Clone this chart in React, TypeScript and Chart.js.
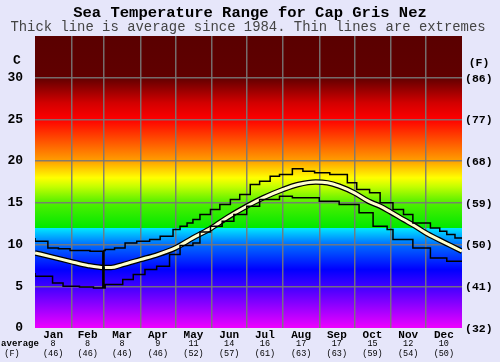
import React, { useEffect, useRef } from "react";
import { Chart, registerables } from "chart.js";

Chart.register(...registerables);

const TITLE = "Sea Temperature Range for Cap Gris Nez";
const SUBTITLE = "Thick line is average since 1984. Thin lines are extremes";

const MONTHS = ["Jan", "Feb", "Mar", "Apr", "May", "Jun", "Jul", "Aug", "Sep", "Oct", "Nov", "Dec"];
const MONTH_STARTS = [0, 31, 59, 90, 120, 151, 181, 212, 243, 273, 304, 334, 365];
const MONTH_AVG_C = [8, 8, 8, 9, 11, 14, 16, 17, 17, 15, 12, 10];
const MONTH_AVG_F = [46, 46, 46, 46, 52, 57, 61, 63, 63, 59, 54, 50];

const Y_TICKS_C = [0, 5, 10, 15, 20, 25, 30];
const Y_TICKS_F = ["(32)", "(41)", "(50)", "(59)", "(68)", "(77)", "(86)"];

// average (day of year, °C)
const AVG_DAYS = [0, 15, 31, 45, 59, 65, 75, 90, 105, 120, 135, 151, 165, 181, 195, 212, 225, 240, 250, 260, 273, 285, 295, 304, 315, 325, 334, 345, 355, 365];
const AVG_TEMP = [9.0, 8.5, 7.95, 7.5, 7.25, 7.25, 7.6, 8.2, 8.8, 9.6, 10.8, 12.0, 13.3, 14.6, 15.6, 16.6, 17.2, 17.5, 17.4, 17.0, 16.2, 15.2, 14.6, 13.9, 13.0, 12.2, 11.4, 10.6, 9.9, 9.2];

// highest recorded (the 29 Feb entry drops sharply)
const MAX_DAYS = [0, 11, 20, 30, 47, 58, 59, 60, 68, 77, 87, 98, 107, 118, 124, 130, 135, 141, 150, 158, 167, 175, 184, 192, 201, 209, 220, 229, 239, 252, 267, 275, 286, 295, 306, 315, 323, 338, 346, 352, 359, 365];
const MAX_TEMP = [10.8, 10.4, 9.6, 9.5, 9.3, 9.2, 7.0, 9.3, 9.4, 9.6, 10.2, 10.4, 10.6, 11.0, 11.8, 12.2, 12.6, 13.0, 13.6, 14.2, 14.8, 15.4, 16.0, 17.2, 17.6, 18.2, 18.4, 19.1, 18.8, 18.6, 18.4, 17.4, 16.6, 16.2, 15.0, 14.2, 13.6, 12.6, 12.0, 11.6, 11.2, 10.8];

// lowest recorded (the 29 Feb entry jumps sharply)
const MIN_DAYS = [0, 15, 24, 38, 50, 58, 59, 60, 75, 84, 94, 104, 115, 124, 135, 141, 150, 160, 170, 181, 192, 209, 220, 243, 260, 277, 289, 301, 306, 323, 338, 352, 365];
const MIN_TEMP = [6.6, 6.2, 5.4, 5.0, 4.9, 4.8, 7.2, 4.8, 5.2, 5.8, 6.4, 7.0, 7.4, 8.8, 9.9, 10.2, 11.5, 12.2, 12.8, 13.6, 14.6, 15.4, 15.8, 15.6, 15.2, 14.8, 13.8, 12.2, 11.8, 10.6, 9.6, 8.4, 8.0];

const pts = (xs: number[], ys: number[]) => xs.map((x, i) => ({ x, y: ys[i] }));

const MONO = "'Liberation Mono', 'Courier New', monospace";
const BG = "#e6e6fa";

// temperature colour bands behind the plot
const BANDS: [number, string][] = [
  [0, "rgb(238,0,255)"],
  [4.5, "rgb(80,0,255)"],
  [7, "rgb(0,0,255)"],
  [10, "rgb(0,110,255)"],
  [11.97, "rgb(0,232,255)"],
  [12.0, "rgb(0,232,0)"],
  [15, "rgb(80,240,0)"],
  [17, "rgb(200,255,0)"],
  [18, "rgb(255,255,0)"],
  [20, "rgb(255,160,0)"],
  [25, "rgb(255,0,0)"],
  [27, "rgb(210,0,0)"],
  [30, "rgb(96,0,0)"],
  [35, "rgb(90,0,0)"],
];

const bandPlugin = {
  id: "bands",
  beforeDraw(chart: any) {
    const { ctx, chartArea, scales, width, height } = chart;
    ctx.save();
    ctx.fillStyle = BG;
    ctx.fillRect(0, 0, width, height);
    const y = scales.y;
    const g = ctx.createLinearGradient(0, y.getPixelForValue(0), 0, y.getPixelForValue(35));
    BANDS.forEach(([t, c]) => g.addColorStop(t / 35, c));
    ctx.fillStyle = g;
    ctx.fillRect(chartArea.left, chartArea.top, chartArea.right - chartArea.left, chartArea.bottom - chartArea.top);
    ctx.restore();
  },
};

const labelPlugin = {
  id: "labels",
  afterDraw(chart: any) {
    const { ctx, scales, chartArea } = chart;
    const x = scales.x;
    const y = scales.y;
    ctx.save();
    ctx.fillStyle = "#000";
    ctx.textAlign = "center";
    ctx.textBaseline = "middle";

    ctx.font = `bold 15.5px ${MONO}`;
    ctx.fillText(TITLE, 250, 13);
    ctx.fillStyle = "#444";
    ctx.font = `13.9px ${MONO}`;
    ctx.fillText(SUBTITLE, 248, 27);

    ctx.fillStyle = "#000";
    ctx.font = `bold 13px ${MONO}`;
    ctx.textAlign = "right";
    Y_TICKS_C.forEach((t) => ctx.fillText(String(t), 23, y.getPixelForValue(t)));
    ctx.textAlign = "center";
    ctx.fillText("C", 17, 61);

    ctx.font = `bold 11.5px ${MONO}`;
    ctx.textAlign = "left";
    Y_TICKS_F.forEach((t, i) => ctx.fillText(t, chartArea.right + 3, y.getPixelForValue(Y_TICKS_C[i]) + 1));
    ctx.textAlign = "center";
    ctx.fillText("(F)", 479, 63);

    MONTHS.forEach((m, i) => {
      const cx = x.getPixelForValue((MONTH_STARTS[i] + MONTH_STARTS[i + 1]) / 2);
      ctx.font = `bold 11px ${MONO}`;
      ctx.fillText(m, cx, 335);
      ctx.font = `8.5px ${MONO}`;
      ctx.fillText(String(MONTH_AVG_C[i]), cx, 343.5);
      ctx.fillText(`(${MONTH_AVG_F[i]})`, cx, 353.5);
    });
    ctx.font = `bold 9px ${MONO}`;
    ctx.fillText("average", 20, 343.5);
    ctx.font = `8.5px ${MONO}`;
    ctx.fillText("(F)", 12, 353.5);
    ctx.restore();
  },
};

export default function App() {
  const ref = useRef<HTMLCanvasElement | null>(null);

  useEffect(() => {
    if (!ref.current) return;
    const gridColor = (c: any, last: number) =>
      c.tick && (c.tick.value === 0 || c.tick.value === last) ? "rgba(0,0,0,0)" : "rgba(120,120,120,0.9)";

    const thin = {
      borderColor: "#000",
      borderWidth: 1.5,
      pointRadius: 0,
      stepped: "after",
    };

    const chart = new Chart(ref.current, {
      type: "line",
      data: {
        datasets: [
          {
            data: pts(AVG_DAYS, AVG_TEMP),
            borderColor: "#000",
            borderWidth: 5.5,
            pointRadius: 0,
            tension: 0.4,
            cubicInterpolationMode: "monotone",
            order: 3,
          },
          {
            data: pts(AVG_DAYS, AVG_TEMP),
            borderColor: "#ffffcc",
            borderWidth: 3,
            pointRadius: 0,
            tension: 0.4,
            cubicInterpolationMode: "monotone",
            order: 2,
          },
          { ...thin, data: pts(MAX_DAYS, MAX_TEMP), order: 1 },
          { ...thin, data: pts(MIN_DAYS, MIN_TEMP), order: 1 },
        ] as any,
      },
      options: {
        animation: false,
        responsive: true,
        maintainAspectRatio: false,
        layout: { padding: { left: 35, right: 38, top: 36, bottom: 34 } },
        plugins: { legend: { display: false }, tooltip: { enabled: false } },
        scales: {
          x: {
            type: "linear",
            min: 0,
            max: 365,
            afterBuildTicks: (s: any) => {
              s.ticks = MONTH_STARTS.map((v) => ({ value: v }));
            },
            ticks: { display: false },
            border: { display: false },
            grid: { drawTicks: false, lineWidth: 1.5, color: (c: any) => gridColor(c, 365) },
          },
          y: {
            min: 0,
            max: 35,
            ticks: { display: false, stepSize: 5 },
            border: { display: false },
            grid: { drawTicks: false, lineWidth: 1.5, color: (c: any) => gridColor(c, 35) },
          },
        },
      } as any,
      plugins: [bandPlugin, labelPlugin],
    });
    return () => chart.destroy();
  }, []);

  return (
    <div style={{ position: "absolute", left: 0, top: 0, width: 500, height: 362, background: BG }}>
      <canvas ref={ref} />
    </div>
  );
}
